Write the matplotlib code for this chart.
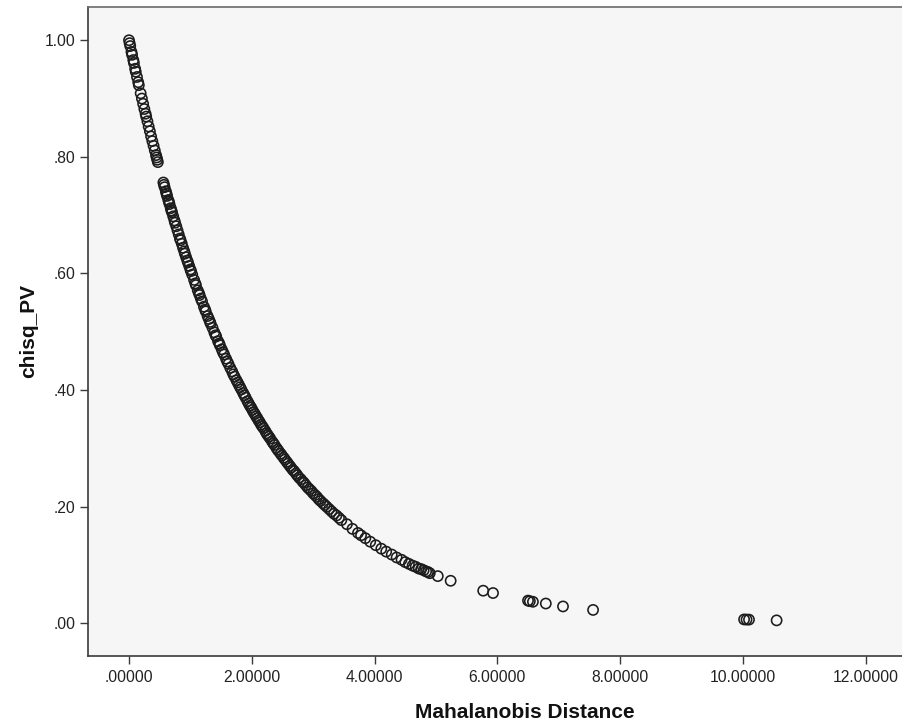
import matplotlib
matplotlib.use('Agg')
import matplotlib.pyplot as plt
from matplotlib.ticker import FuncFormatter

plt.rcParams['font.family'] = ['Liberation Sans', 'DejaVu Sans']

# Mahalanobis distance and chi-square p value
mahal = [0.00, 0.01, 0.02, 0.04, 0.05, 0.07, 0.08, 0.10, 0.11, 0.13,
         0.15, 0.16, 0.19, 0.21, 0.23, 0.25, 0.27, 0.28, 0.30, 0.32,
         0.34, 0.36, 0.38, 0.40, 0.42, 0.44, 0.45, 0.46, 0.47,
         0.56, 0.57, 0.58, 0.60, 0.62, 0.64, 0.66, 0.68, 0.70, 0.72,
         0.74, 0.77, 0.79, 0.81, 0.84, 0.86, 0.88, 0.91, 0.93, 0.96,
         0.98, 1.01, 1.03, 1.06, 1.09, 1.12, 1.14, 1.17, 1.19, 1.22,
         1.25, 1.28, 1.30, 1.33, 1.36, 1.39, 1.42, 1.45, 1.48, 1.51,
         1.55, 1.58, 1.62, 1.65, 1.68, 1.72, 1.75, 1.79, 1.83, 1.86,
         1.90, 1.93, 1.97, 2.01, 2.05, 2.09, 2.13, 2.17, 2.22, 2.26,
         2.30, 2.35, 2.40, 2.44, 2.49, 2.54, 2.59, 2.64, 2.69, 2.74,
         2.80, 2.85, 2.91, 2.97, 3.03, 3.09, 3.16, 3.22, 3.30, 3.38,
         3.46, 3.55, 3.64, 3.73, 3.78, 3.85, 3.93, 4.02, 4.11, 4.19,
         4.28, 4.36, 4.44, 4.50, 4.56, 4.62, 4.67, 4.72, 4.76, 4.80,
         4.84, 4.87, 4.90,
         5.03, 5.24, 5.77, 5.93, 6.50, 6.53, 6.58, 6.79, 7.07, 7.56,
         10.02, 10.06, 10.10, 10.55,
         0.61, 0.65, 0.69, 0.75, 0.83, 0.90, 0.95, 1.00, 1.08, 1.15,
         1.24, 1.32, 1.41, 1.47,
         1.53, 1.60, 1.70, 1.77, 1.81, 1.88, 1.95, 1.99, 2.03, 2.07,
         2.11, 2.15, 2.19, 2.24, 2.28, 2.33, 2.37, 2.42, 2.47, 2.52,
         2.57, 2.62, 2.67, 2.72, 2.77, 2.83, 2.88, 2.94, 3.00, 3.06,
         3.12, 3.19, 3.26, 3.34, 3.42]

chisq_pv = [1.000, 0.995, 0.990, 0.980, 0.975, 0.966, 0.961, 0.951, 0.946, 0.937,
            0.928, 0.923, 0.909, 0.900, 0.891, 0.882, 0.874, 0.869, 0.861, 0.852,
            0.844, 0.835, 0.827, 0.819, 0.811, 0.803, 0.799, 0.795, 0.791,
            0.756, 0.752, 0.748, 0.741, 0.733, 0.726, 0.719, 0.712, 0.705, 0.698,
            0.691, 0.681, 0.674, 0.667, 0.657, 0.651, 0.644, 0.634, 0.628, 0.619,
            0.613, 0.604, 0.598, 0.589, 0.580, 0.571, 0.566, 0.557, 0.552, 0.543,
            0.535, 0.527, 0.522, 0.514, 0.507, 0.499, 0.492, 0.484, 0.477, 0.470,
            0.461, 0.454, 0.445, 0.438, 0.432, 0.423, 0.417, 0.409, 0.401, 0.395,
            0.387, 0.381, 0.373, 0.366, 0.359, 0.352, 0.345, 0.338, 0.330, 0.323,
            0.317, 0.309, 0.301, 0.295, 0.288, 0.281, 0.274, 0.267, 0.261, 0.254,
            0.247, 0.241, 0.233, 0.227, 0.220, 0.213, 0.206, 0.200, 0.192, 0.185,
            0.177, 0.170, 0.162, 0.155, 0.151, 0.146, 0.140, 0.134, 0.128, 0.123,
            0.118, 0.113, 0.109, 0.105, 0.102, 0.099, 0.097, 0.094, 0.093, 0.091,
            0.089, 0.088, 0.086,
            0.081, 0.073, 0.056, 0.052, 0.039, 0.038, 0.037, 0.034, 0.029, 0.023,
            0.0067, 0.0065, 0.0064, 0.0051,
            0.737, 0.723, 0.708, 0.687, 0.660, 0.638, 0.622, 0.607, 0.583, 0.563,
            0.538, 0.517, 0.494, 0.480,
            0.465, 0.449, 0.427, 0.413, 0.405, 0.391, 0.377, 0.370, 0.362, 0.355,
            0.348, 0.341, 0.335, 0.326, 0.320, 0.312, 0.306, 0.298, 0.291, 0.284,
            0.277, 0.270, 0.263, 0.257, 0.250, 0.243, 0.237, 0.230, 0.223, 0.217,
            0.210, 0.203, 0.196, 0.188, 0.181]

x_ticks = [0, 2, 4, 6, 8, 10, 12]
y_ticks = [0.0, 0.2, 0.4, 0.6, 0.8, 1.0]


def spss_fmt(decimals):
    def f(v, pos):
        s = f'{v:.{decimals}f}'
        if s.startswith('0.'):
            s = s[1:]
        return s
    return FuncFormatter(f)


fig = plt.figure(figsize=(9.03, 7.27), dpi=100)
# plot frame runs off the right edge of the picture, like the cropped original
ax = fig.add_axes([88/903, 1 - 656/727, (962 - 88)/903, (656 - 7)/727])
ax.set_facecolor('#f6f6f6')

ax.scatter(mahal, chisq_pv, s=54, facecolors='none', edgecolors='#1c1c1c',
           linewidths=1.15, zorder=3)

ax.set_xlim(-0.668, 13.57)
ax.set_ylim(-0.056, 1.057)
ax.set_xticks(x_ticks)
ax.set_yticks(y_ticks)
ax.xaxis.set_major_formatter(spss_fmt(5))
ax.yaxis.set_major_formatter(spss_fmt(2))

for side in ['top', 'left', 'bottom', 'right']:
    ax.spines[side].set_color('#3a3a3a')
    ax.spines[side].set_linewidth(1.2)
ax.spines['top'].set_color('#6a6a6a')

ax.tick_params(direction='out', length=6, width=1.0, color='#3a3a3a',
               labelsize=11.3, labelcolor='#222222')
ax.tick_params(axis='x', pad=4)
ax.tick_params(axis='y', pad=3)

ax.set_xlabel('Mahalanobis Distance', fontsize=15, fontweight='bold',
              color='#111111', labelpad=13)
ax.set_ylabel('chisq_PV', fontsize=15, fontweight='bold', color='#111111',
              labelpad=5)

fig.savefig('out.png', dpi=100)
